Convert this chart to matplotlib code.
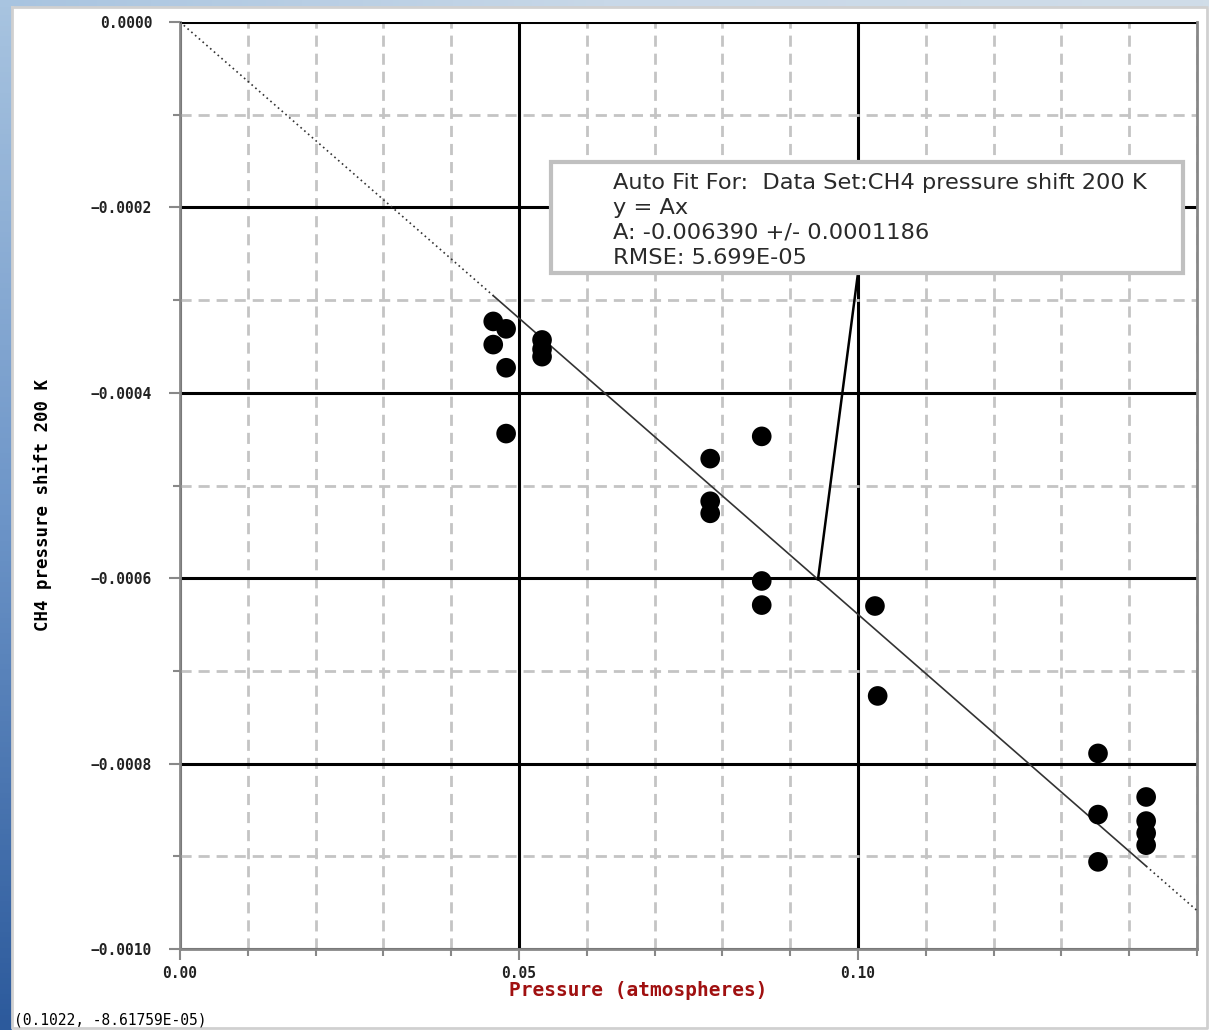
import numpy as np
import matplotlib
matplotlib.use("Agg")
import matplotlib.pyplot as plt
from matplotlib.ticker import MultipleLocator

# data
pressure = [0.0462, 0.0462, 0.0481, 0.0481, 0.0481,
            0.0534, 0.0534, 0.0534,
            0.0782, 0.0782, 0.0782,
            0.0858, 0.0858, 0.0858,
            0.1025, 0.1029,
            0.1354, 0.1354, 0.1354,
            0.1425, 0.1425, 0.1425, 0.1425]
shift = [-0.000323, -0.000348, -0.000331, -0.000373, -0.000444,
         -0.000343, -0.000353, -0.000361,
         -0.000471, -0.000517, -0.000530,
         -0.000447, -0.000603, -0.000629,
         -0.000630, -0.000727,
         -0.000789, -0.000855, -0.000906,
         -0.000836, -0.000862, -0.000875, -0.000888]
fit_A = -0.006390
fit_lines = ["Auto Fit For:  Data Set:CH4 pressure shift 200 K",
             "y = Ax",
             "A: -0.006390 +/- 0.0001186",
             "RMSE: 5.699E-05"]
cursor_text = "(0.1022, -8.61759E-05)"
x_ticks = [0.00, 0.05, 0.10]
y_ticks = [0.0, -0.0002, -0.0004, -0.0006, -0.0008, -0.0010]

W, H = 1209, 1030
fig = plt.figure(figsize=(W / 100, H / 100), dpi=100)
fig.patch.set_facecolor("white")

# blue desktop edge on the left / top
bg = fig.add_axes([0, 0, 1, 1], zorder=-10)
bg.set_xlim(0, W)
bg.set_ylim(H, 0)
bg.axis("off")
edge_cmap = matplotlib.colors.LinearSegmentedColormap.from_list(
    "edge", ["#a8c4e0", "#6d95c8", "#2c5a9c"])
top_cmap = matplotlib.colors.LinearSegmentedColormap.from_list(
    "top", ["#a8c4e0", "#c8d8e8", "#d0dde8"])
bg.imshow(np.linspace(0, 1, 200).reshape(-1, 1), extent=[0, 12, H, 0],
          cmap=edge_cmap, aspect="auto")
bg.imshow(np.linspace(0, 1, 200).reshape(1, -1), extent=[0, W, 7, 0],
          cmap=top_cmap, aspect="auto")
bg.plot([12, W - 2, W - 2, 12, 12], [7, 7, H - 2, H - 2, 7], color="#d0d0d0", lw=2)

ax = fig.add_axes([180 / W, 1 - 949 / H, (1197 - 180) / W, (949 - 22) / H])
ax.set_xlim(0, 0.15)
ax.set_ylim(-0.0010, 0.0)

ax.xaxis.set_minor_locator(MultipleLocator(0.01))
ax.yaxis.set_minor_locator(MultipleLocator(0.0001))
ax.set_xticks(x_ticks)
ax.set_xticklabels([f"{v:.2f}" for v in x_ticks])
ax.set_yticks(y_ticks)
ax.set_yticklabels([f"{v:.4f}".replace("-", "\u2212") if v != 0 else "0.0000" for v in y_ticks])

ax.grid(which="minor", color="#c4c4c4", ls=(0, (4, 2.5)), lw=2)
ax.grid(which="major", color="black", ls="-", lw=2.2)
ax.set_axisbelow(True)

for side in ["left", "bottom", "right"]:
    ax.spines[side].set_color("#888888")
    ax.spines[side].set_linewidth(2)
ax.spines["top"].set_visible(False)
ax.tick_params(which="both", direction="out", color="#888888", width=1.5,
               labelsize=10.5)
ax.tick_params(axis="y", pad=12)
ax.tick_params(axis="x", pad=4)
ax.tick_params(which="major", length=8)
ax.tick_params(which="minor", length=5)
for lab in ax.get_xticklabels() + ax.get_yticklabels():
    lab.set_family("DejaVu Sans Mono")
    lab.set_fontweight("bold")
    lab.set_color("#222222")

ax.set_xlabel("Pressure (atmospheres)", family="DejaVu Sans Mono", fontweight="bold",
              color="#a01010", fontsize=14, labelpad=0)
ax.xaxis.label.set_position(((638 - 180) / (1197 - 180), 0))
ax.set_ylabel("CH4 pressure shift 200 K", family="DejaVu Sans Mono", fontweight="bold",
              fontsize=12.5, labelpad=28)
ax.yaxis.label.set_position((0, 1 - (505 - 22) / (949 - 22)))

# fit line: solid over data range, dotted elsewhere
xmin, xmax = min(pressure), max(pressure)
xs = np.array([xmin, xmax])
ax.plot(xs, fit_A * xs, color="#333333", lw=1.2, zorder=3)
ax.plot([0, xmin], [0, fit_A * xmin], color="#333333", lw=1.2, ls=(0, (1, 2)), zorder=3)
ax.plot([xmax, 0.15], [fit_A * xmax, fit_A * 0.15], color="#333333", lw=1.2,
        ls=(0, (1, 2)), zorder=3)

ax.scatter(pressure, shift, s=200, color="black", zorder=4, edgecolors="none")

# fit annotation box
box_l, box_r, box_t, box_b = 551, 1183, 162, 273
def px2data(px, py):
    return ax.transData.inverted().transform(
        fig.transFigure.transform((px / W, 1 - py / H)))
ax.plot(*zip(px2data(858, box_b), (0.0941, fit_A * 0.0941)), color="black", lw=1.8, zorder=5)
fig.patches.append(plt.Rectangle((box_l / W, 1 - box_b / H), (box_r - box_l) / W,
                                 (box_b - box_t) / H, transform=fig.transFigure,
                                 facecolor="white", edgecolor="#c0c0c0", lw=3, zorder=6))
for i, line in enumerate(fit_lines):
    fig.text(613 / W, 1 - (183 + i * 25) / H, line, fontsize=16.2, va="center",
             ha="left", color="#2a2a2a", zorder=7, family="DejaVu Sans")

fig.text(14 / W, 1 - 1020 / H, cursor_text, family="DejaVu Sans Mono", fontsize=10.5,
         va="center", ha="left")

fig.savefig("out.png", dpi=100)
